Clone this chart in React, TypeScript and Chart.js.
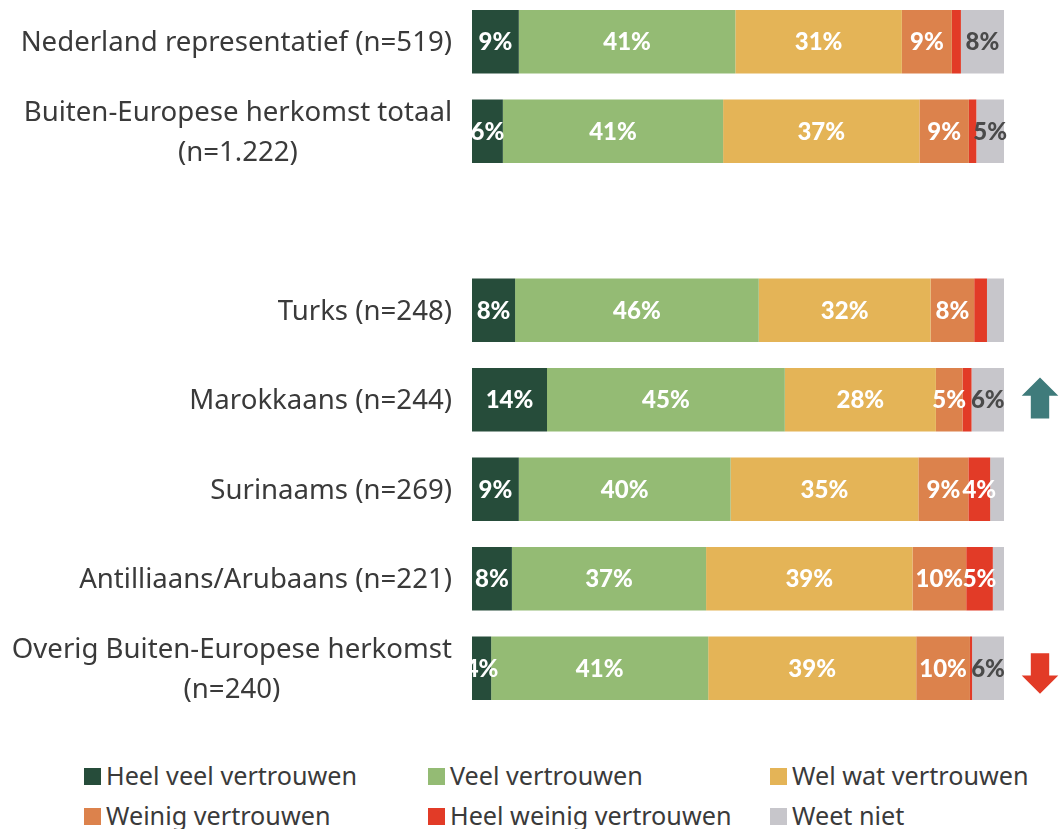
import React, { useEffect, useRef } from 'react';
import { Chart, registerables } from 'chart.js';

Chart.register(...registerables);

const categories: string[][] = [
  ['Nederland representatief (n=519)'],
  ['Buiten-Europese herkomst totaal', '(n=1.222)'],
  [''],
  ['Turks (n=248)'],
  ['Marokkaans (n=244)'],
  ['Surinaams (n=269)'],
  ['Antilliaans/Arubaans (n=221)'],
  ['Overig Buiten-Europese herkomst', '(n=240)'],
];

const seriesNames = [
  'Heel veel vertrouwen',
  'Veel vertrouwen',
  'Wel wat vertrouwen',
  'Weinig vertrouwen',
  'Heel weinig vertrouwen',
  'Weet niet',
];

const heelVeel = [8.8, 5.8, null, 8.1, 14.1, 8.8, 7.5, 3.6];
const veel = [40.7, 41.4, null, 45.8, 44.7, 39.8, 36.5, 40.8];
const welWat = [31.3, 36.9, null, 32.3, 28.4, 35.3, 38.8, 39.1];
const weinig = [9.4, 9.3, null, 8.2, 5.0, 9.4, 10.1, 10.1];
const heelWeinig = [1.7, 1.4, null, 2.4, 1.7, 4.1, 5.0, 0.4];
const weetNiet = [8.1, 5.2, null, 3.2, 6.1, 2.6, 2.1, 6.0];

const arrows: (string | null)[] = [null, null, null, null, 'up', null, null, 'down'];

const colors = ['#264c3a', '#94bb74', '#e4b457', '#dc824c', '#e23b27', '#c7c6cb'];
const labelColors = ['#ffffff', '#ffffff', '#ffffff', '#ffffff', '#ffffff', '#4a4a4a'];

const FONT = '"Noto Sans", "Open Sans", sans-serif';
const VFONT = 'Lato, "Noto Sans", sans-serif';
const TEXT = '#3a3a3a';

const catLabelPlugin = {
  id: 'catLabels',
  afterDraw(chart: any) {
    const ctx = chart.ctx;
    const ys = chart.scales.y;
    ctx.save();
    ctx.font = `400 27.6px ${FONT}`;
    ctx.fillStyle = TEXT;
    ctx.textAlign = 'center';
    ctx.textBaseline = 'middle';
    const rightX = 452;
    const lh = 40;
    categories.forEach((lines, i) => {
      const cy = ys.getPixelForValue(i) + 1.5;
      const widest = Math.max(...lines.map((l) => ctx.measureText(l).width));
      const cx = rightX - widest / 2;
      const n = lines.length;
      lines.forEach((l, li) => {
        ctx.fillText(l, cx, cy + (li - (n - 1) / 2) * lh);
      });
    });
    ctx.restore();
  },
};

const valueLabelPlugin = {
  id: 'valueLabels',
  afterDatasetsDraw(chart: any) {
    const ctx = chart.ctx;
    ctx.save();
    ctx.font = `900 24px ${VFONT}`;
    ctx.textAlign = 'center';
    ctx.textBaseline = 'middle';
    chart.data.datasets.forEach((ds: any, di: number) => {
      const meta = chart.getDatasetMeta(di);
      meta.data.forEach((bar: any, i: number) => {
        const v = ds.data[i];
        if (v == null) return;
        const r = Math.round(v);
        if (r < 4) return;
        const p = bar.getProps(['x', 'base', 'y'], true);
        ctx.fillStyle = labelColors[di];
        ctx.fillText(r + '%', (p.x + p.base) / 2, p.y + 1);
      });
    });
    ctx.restore();
  },
};

const arrowPlugin = {
  id: 'arrows',
  afterDraw(chart: any) {
    const ctx = chart.ctx;
    const ys = chart.scales.y;
    const cx = 1040;
    const hw = 18.3;
    const sw = 9.2;
    ctx.save();
    arrows.forEach((a, i) => {
      if (!a) return;
      const cy = ys.getPixelForValue(i);
      ctx.beginPath();
      if (a === 'up') {
        ctx.fillStyle = '#3f7b7b';
        const tip = cy - 22.3;
        const base = cy - 4;
        const bottom = cy + 18.7;
        ctx.moveTo(cx, tip);
        ctx.lineTo(cx + hw, base);
        ctx.lineTo(cx + sw, base);
        ctx.lineTo(cx + sw, bottom);
        ctx.lineTo(cx - sw, bottom);
        ctx.lineTo(cx - sw, base);
        ctx.lineTo(cx - hw, base);
      } else {
        ctx.fillStyle = '#e23b27';
        const top = cy - 15;
        const base = cy + 7.3;
        const tip = cy + 25.6;
        ctx.moveTo(cx - sw, top);
        ctx.lineTo(cx + sw, top);
        ctx.lineTo(cx + sw, base);
        ctx.lineTo(cx + hw, base);
        ctx.lineTo(cx, tip);
        ctx.lineTo(cx - hw, base);
        ctx.lineTo(cx - sw, base);
      }
      ctx.closePath();
      ctx.fill();
    });
    ctx.restore();
  },
};

export default function App() {
  const ref = useRef<HTMLCanvasElement | null>(null);

  useEffect(() => {
    if (!ref.current) return;
    const series = [heelVeel, veel, welWat, weinig, heelWeinig, weetNiet];
    const chart = new Chart(ref.current, {
      type: 'bar',
      data: {
        labels: categories.map((c) => c.join(' ')),
        datasets: series.map((d, i) => ({
          label: seriesNames[i],
          data: d as any,
          backgroundColor: colors[i],
          borderWidth: 0,
          barPercentage: 0.71,
          categoryPercentage: 1,
        })),
      },
      options: {
        indexAxis: 'y',
        animation: false,
        responsive: false,
        layout: { padding: { left: 472, right: 57, top: 0, bottom: 0 } },
        scales: {
          x: { stacked: true, min: 0, max: 100, display: false },
          y: { stacked: true, display: false },
        },
        plugins: {
          legend: { display: false },
          tooltip: { enabled: false },
        },
      },
      plugins: [catLabelPlugin, valueLabelPlugin, arrowPlugin],
    });
    return () => chart.destroy();
  }, []);

  const colLeft = [84, 428, 770];
  const rowCenter = [775, 815];

  return (
    <div>
      <div style={{ position: 'absolute', left: 0, top: -3, width: 1061, height: 716 }}>
        <canvas ref={ref} width={1061} height={716} style={{ display: 'block' }} />
      </div>
      {seriesNames.map((name, i) => {
        const col = i % 3;
        const row = Math.floor(i / 3);
        return (
          <div
            key={name}
            style={{
              position: 'absolute',
              left: colLeft[col],
              top: rowCenter[row] - 16,
              height: 32,
              display: 'flex',
              alignItems: 'center',
              fontFamily: FONT,
              fontSize: 25.2,
              color: TEXT,
              whiteSpace: 'nowrap',
            }}
          >
            <span
              style={{
                display: 'inline-block',
                width: 17,
                height: 17,
                background: colors[i],
                marginRight: 5,
                marginTop: 3,
              }}
            />
            <span>{name}</span>
          </div>
        );
      })}
    </div>
  );
}
